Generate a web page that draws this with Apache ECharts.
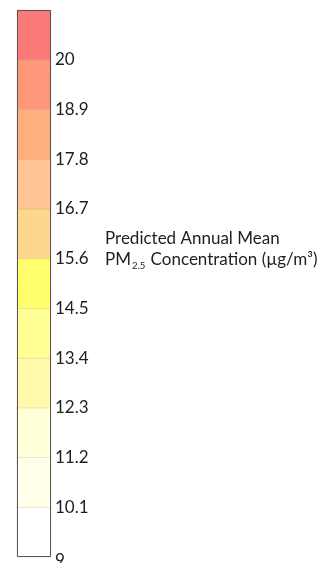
<!DOCTYPE html>
<html>
<head>
<meta charset="utf-8">
<script src="https://cdn.jsdelivr.net/npm/echarts@6/dist/echarts.min.js"></script>
<style>html,body{margin:0;padding:0;background:#fff}#c{width:329px;height:563px}</style>
</head>
<body>
<div id="c"></div>
<script>
var bandEdges = [9, 10.1, 11.2, 12.3, 13.4, 14.5, 15.6, 16.7, 17.8, 18.9, 20, 21.1];
var bandColors = ['#ffffff', '#ffffea', '#ffffd8', '#fffaaa', '#ffff96', '#ffff6e', '#fed78e', '#fec493', '#fdaf7e', '#fc977a', '#fa7a7a'];
var tickLabels = ['9', '10.1', '11.2', '12.3', '13.4', '14.5', '15.6', '16.7', '17.8', '18.9', '20'];
var titleLine1 = 'Predicted Annual Mean';
var titleLine2 = 'PM{s|2.5} Concentration (µg/m³)';

var bands = [];
for (var i = 0; i < bandColors.length; i++) {
  bands.push([0, bandEdges[i], bandEdges[i + 1], i]);
}

var chart = echarts.init(document.getElementById('c'), null, {renderer: 'canvas'});
var font = 'Lato';
chart.setOption({
  animation: false,
  grid: {left: 17, top: 10, width: 34, height: 547, outerBoundsMode: 'none', containLabel: false},
  xAxis: {type: 'category', data: ['bar'], show: false},
  yAxis: {
    type: 'value', position: 'right',
    min: bandEdges[0], max: bandEdges[bandEdges.length - 1], interval: 1.1,
    axisLine: {show: false}, axisTick: {show: false}, splitLine: {show: false},
    axisLabel: {
      margin: 4, color: '#1e1e1e', fontSize: 17, fontFamily: font,
      formatter: function (v) {
        var idx = Math.round((v - bandEdges[0]) / 1.1);
        var t = tickLabels[idx];
        if (t === undefined) return '';
        return idx === 0 ? '{b|' + t + '}' : t;
      },
      rich: {b: {fontSize: 17, fontFamily: font, color: '#1e1e1e', padding: [8, 0, 0, 0]}}
    }
  },
  series: [{
    type: 'custom',
    data: bands,
    renderItem: function (params, api) {
      var lo = api.coord([0, api.value(1)]);
      var hi = api.coord([0, api.value(2)]);
      var w = api.size([1, 0])[0];
      return {
        type: 'rect',
        shape: {x: lo[0] - w / 2, y: hi[1], width: w, height: lo[1] - hi[1]},
        style: {fill: bandColors[api.value(3)], stroke: 'rgba(160,70,50,0.1)', lineWidth: 1}
      };
    }
  }, {
    type: 'custom',
    z: 5,
    data: [[0, bandEdges[0], bandEdges[bandEdges.length - 1]]],
    renderItem: function (params, api) {
      var lo = api.coord([0, api.value(1)]);
      var hi = api.coord([0, api.value(2)]);
      var w = api.size([1, 0])[0];
      return {
        type: 'rect',
        shape: {x: lo[0] - w / 2 + 0.5, y: hi[1] + 0.5, width: w - 1, height: lo[1] - hi[1] - 1},
        style: {fill: null, stroke: '#555', lineWidth: 1}
      };
    }
  }],
  graphic: [{
    type: 'text', left: 105, top: 228,
    style: {
      text: titleLine1 + '\n' + titleLine2,
      fontSize: 17, fontFamily: font, fill: '#1e1e1e', lineHeight: 21,
      rich: {s: {fontSize: 9.5, fontFamily: font, fill: '#1e1e1e', padding: [12, 1, 0, 1], lineHeight: 21}}
    }
  }]
});
</script>
</body>
</html>
